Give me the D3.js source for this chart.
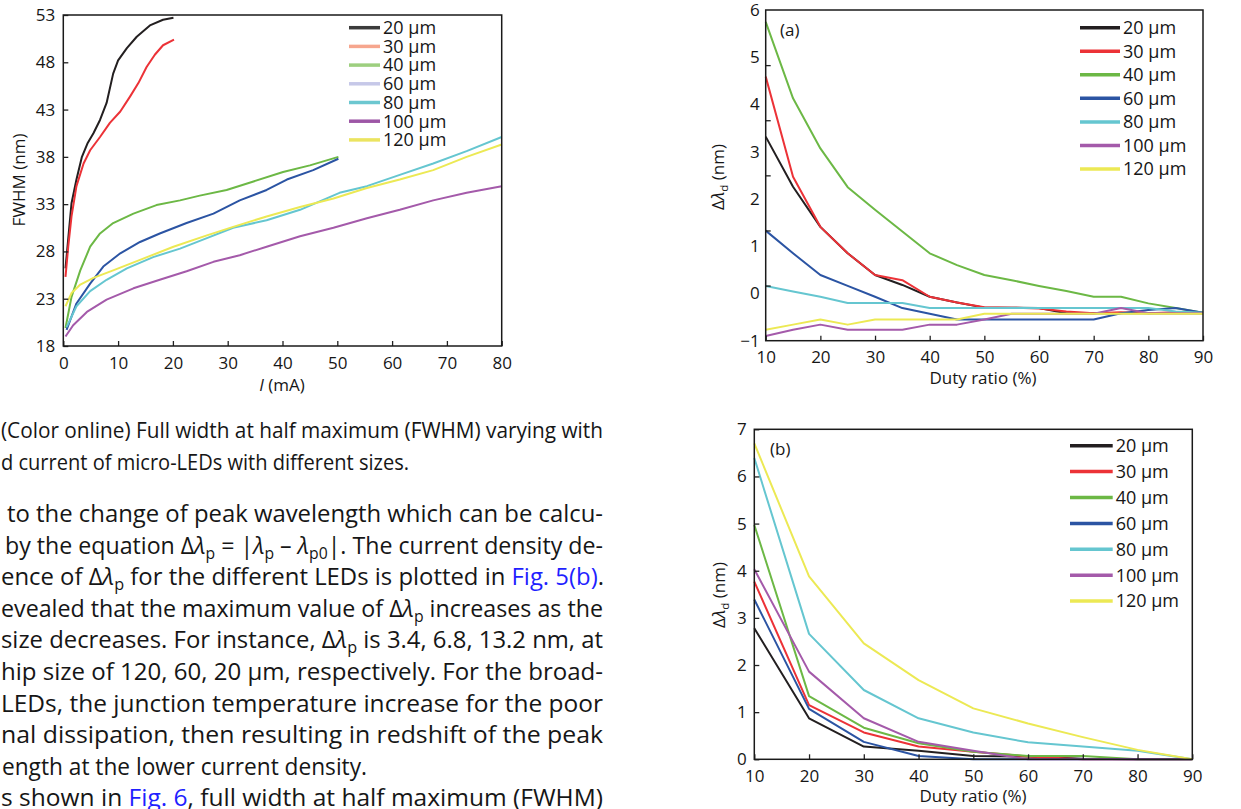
<!DOCTYPE html>
<html>
<head>
<meta charset="utf-8">
<script src="https://cdn.jsdelivr.net/npm/d3@7"></script>
<style>
  body { margin: 0; background: #fff; }
  svg { display: block; }
  text { font-family: "Open Sans", "Noto Sans", sans-serif; fill: #161616; }
</style>
</head>
<body>
<svg id="page" width="1241" height="809"></svg>
<script>
// sizes shared by all three panels
const sizes = ["20 µm", "30 µm", "40 µm", "60 µm", "80 µm", "100 µm", "120 µm"]
const lineColors = ["#231f20", "#ec3237", "#6cb845", "#2b54a3", "#65c6d0", "#a45aaa", "#ece954"]
const fwhmKeyColors = ["#3b3b3b", "#f6a68e", "#9dcf7f", "#c6c8e8", "#6cc7d0", "#9d57a6", "#ebe460"]

// FWHM vs current (left panel)
const i20 = [0.4, 1.5, 2.4, 3.4, 4.4, 5.5, 6.7, 7.9, 9.1, 10.0, 11.6, 13.4, 15.8, 18.2, 20.1]
const f20 = [26.2, 33.1, 35.6, 38.0, 39.4, 40.5, 41.9, 43.7, 46.8, 48.2, 49.5, 50.7, 51.9, 52.5, 52.7]
const i30 = [0.4, 0.9, 1.5, 2.4, 3.7, 4.9, 6.7, 8.5, 10.4, 12.2, 13.7, 15.2, 16.7, 18.2, 20.2]
const f30 = [25.3, 28.5, 31.7, 34.9, 37.3, 38.7, 40.1, 41.6, 42.8, 44.4, 45.8, 47.5, 48.8, 49.8, 50.4]
const i40 = [0.4, 1.5, 3.1, 4.9, 6.7, 9.1, 12.8, 17.0, 21.3, 24.9, 29.8, 34.7, 40.1, 45.0, 50.2]
const f40 = [19.9, 23.2, 26.0, 28.5, 29.9, 31.0, 32.0, 32.9, 33.4, 33.9, 34.5, 35.4, 36.4, 37.1, 38.0]
const i60 = [0.6, 2.4, 4.9, 7.3, 10.4, 14.0, 17.6, 22.5, 27.4, 32.2, 37.1, 40.8, 45.6, 50.2]
const f60 = [19.7, 22.5, 24.6, 26.4, 27.8, 29.0, 29.9, 31.0, 32.0, 33.4, 34.5, 35.6, 36.6, 37.8]
const i80 = [0.6, 2.4, 4.9, 7.9, 11.6, 16.4, 21.3, 26.2, 31.0, 37.1, 43.2, 46.8, 50.4, 55.4, 61.4, 67.5, 73.6, 80]
const f80 = [20.0, 22.2, 23.8, 25.0, 26.2, 27.4, 28.3, 29.4, 30.5, 31.3, 32.4, 33.3, 34.2, 34.9, 36.1, 37.3, 38.6, 40.1]
const i100 = [0.4, 1.8, 4.3, 7.9, 12.8, 17.6, 22.5, 27.4, 32.2, 37.1, 43.2, 49.3, 55.4, 61.4, 67.5, 73.6, 80]
const f100 = [19.0, 20.2, 21.6, 22.9, 24.1, 25.0, 25.9, 26.9, 27.6, 28.5, 29.6, 30.5, 31.5, 32.4, 33.4, 34.2, 34.9]
const i120 = [0.4, 1.5, 3.1, 5.5, 9.1, 14.0, 20.1, 26.2, 31.0, 37.1, 43.2, 49.3, 55.4, 61.4, 67.5, 73.6, 80]
const f120 = [22.2, 23.6, 24.5, 25.2, 26.0, 27.1, 28.5, 29.7, 30.6, 31.7, 32.7, 33.6, 34.7, 35.6, 36.6, 38.0, 39.3]
const currentTicks = [0, 10, 20, 30, 40, 50, 60, 70, 80]
const fwhmTicks = [18, 23, 28, 33, 38, 43, 48, 53]

// panel (a)
const dutyA = [10, 15, 20, 25, 30, 35, 40, 45, 50, 55, 60, 65, 70, 75, 80, 85, 90]
const a20 = [3.32, 2.26, 1.41, 0.85, 0.39, 0.18, -0.07, -0.19, -0.30, -0.30, -0.31, -0.42, -0.42, -0.42, -0.42, -0.42, -0.42]
const a30 = [4.59, 2.47, 1.41, 0.85, 0.39, 0.28, -0.07, -0.19, -0.29, -0.30, -0.32, -0.38, -0.42, -0.40, -0.42, -0.40, -0.41]
const a40 = [5.75, 4.13, 3.07, 2.25, 1.77, 1.31, 0.85, 0.60, 0.39, 0.28, 0.16, 0.05, -0.07, -0.07, -0.21, -0.31, -0.41]
const a60 = [1.33, 0.85, 0.39, 0.16, -0.07, -0.31, -0.43, -0.55, -0.55, -0.55, -0.55, -0.55, -0.55, -0.42, -0.35, -0.31, -0.41]
const a80 = [0.16, 0.04, -0.07, -0.20, -0.20, -0.20, -0.31, -0.31, -0.31, -0.31, -0.31, -0.31, -0.31, -0.31, -0.31, -0.38, -0.41]
const a100 = [-0.90, -0.77, -0.66, -0.77, -0.77, -0.77, -0.66, -0.66, -0.55, -0.43, -0.43, -0.43, -0.43, -0.31, -0.42, -0.42, -0.42]
const a120 = [-0.77, -0.66, -0.55, -0.66, -0.55, -0.55, -0.55, -0.55, -0.43, -0.43, -0.43, -0.43, -0.43, -0.43, -0.43, -0.43, -0.43]
const dutyATicks = [-1, 0, 1, 2, 3, 4, 5, 6]

// panel (b)
const dutyB = [10, 20, 30, 40, 50, 60, 70, 80, 90]
const b20 = [2.78, 0.87, 0.27, 0.18, 0.07, 0.06, 0.01, 0, 0]
const b30 = [3.77, 1.15, 0.57, 0.27, 0.16, 0.06, 0, 0, 0]
const b40 = [4.97, 1.34, 0.67, 0.34, 0.16, 0.07, 0.07, 0, 0]
const b60 = [3.39, 1.07, 0.37, 0.07, 0, 0, 0, 0, 0]
const b80 = [6.39, 2.66, 1.47, 0.87, 0.57, 0.36, 0.27, 0.18, 0]
const b100 = [4.03, 1.86, 0.87, 0.37, 0.18, 0, 0, 0, 0]
const b120 = [6.70, 3.88, 2.46, 1.68, 1.08, 0.76, 0.47, 0.20, 0]
const dutyBTicks = [0, 1, 2, 3, 4, 5, 6, 7]
const dutyTicks = [10, 20, 30, 40, 50, 60, 70, 80, 90]

const svg = d3.select("#page")
svg.append("rect").attr("width", 1241).attr("height", 809).attr("fill", "#fff")

function panel(opt) {
  const x = d3.scaleLinear().domain(opt.xDomain).range([opt.left, opt.right])
  const y = d3.scaleLinear().domain(opt.yDomain).range([opt.bottom, opt.top])
  const g = svg.append("g")

  const line = d3.line().x(d => x(d[0])).y(d => y(d[1]))
  opt.series.forEach((s, i) => {
    g.append("path")
      .datum(s.xs.map((v, j) => [v, s.ys[j]]))
      .attr("d", line)
      .attr("fill", "none")
      .attr("stroke", lineColors[i])
      .attr("stroke-width", 2)
      .attr("stroke-linejoin", "round")
  })

  const xAxis = g.append("g")
    .attr("transform", `translate(0,${opt.bottom})`)
    .call(d3.axisBottom(x).tickValues(opt.xTicks).tickSize(-5).tickPadding(opt.xPad).tickFormat(d3.format("d")))
  const yAxis = g.append("g")
    .attr("transform", `translate(${opt.left},0)`)
    .call(d3.axisLeft(y).tickValues(opt.yTicks).tickSize(-5).tickPadding(opt.yPad).tickFormat(d3.format("d")))
  ;[xAxis, yAxis].forEach(a => {
    a.attr("font-family", null).attr("font-size", 17)
    a.select(".domain").remove()
    a.selectAll(".tick line").attr("stroke", "#222").attr("stroke-width", 1.3)
  })

  // panel (a) has its left tick marks on a six-step grid, out of step with its labels
  if (opt.markSteps) {
    yAxis.selectAll(".tick line").remove()
    const marks = d3.scaleLinear().domain([0, opt.markSteps]).range([opt.bottom, opt.top])
    g.append("g")
      .attr("transform", `translate(${opt.left},0)`)
      .call(d3.axisLeft(marks).tickValues(d3.range(1, opt.markSteps)).tickSize(-5).tickFormat(""))
      .call(a => a.select(".domain").remove())
      .selectAll(".tick line").attr("stroke", "#222").attr("stroke-width", 1.3)
  }

  g.append("rect")
    .attr("x", opt.left).attr("y", opt.top)
    .attr("width", opt.right - opt.left).attr("height", opt.bottom - opt.top)
    .attr("fill", "none").attr("stroke", "#1a1a1a").attr("stroke-width", 1.5)

  // legend
  const lg = g.append("g")
  sizes.forEach((s, i) => {
    const cy = opt.keyTop + i * opt.keyStep
    lg.append("line")
      .attr("x1", opt.keyX).attr("x2", opt.keyX + opt.keyLen)
      .attr("y1", cy).attr("y2", cy)
      .attr("stroke", (opt.keyColors || lineColors)[i]).attr("stroke-width", 3.5)
    lg.append("text").attr("x", opt.keyX + opt.keyLen + 3).attr("y", cy + 6.3)
      .attr("font-size", 18).text(s)
  })

  if (opt.tag) {
    g.append("text").attr("x", opt.tag[0]).attr("y", opt.tag[1]).attr("font-size", 17).text(opt.tag[2])
  }
  return { g, x, y }
}

function title(x, y, rotate, segs) {
  const t = svg.append("text")
    .attr("font-size", 17)
    .attr("text-anchor", "middle")
    .attr("transform", `translate(${x},${y})` + (rotate ? " rotate(-90)" : ""))
  addSegs(t, segs, 17)
}

function addSegs(t, segs, size) {
  let shift = 0
  segs.forEach(s => {
    const seg = typeof s === "string" ? [s, ""] : s
    const sp = t.append("tspan").text(seg[0])
    const want = seg[1] === "s" ? size * 0.22 : 0
    if (want !== shift) { sp.attr("dy", want - shift); shift = want }
    if (seg[1] === "s") sp.attr("font-size", size * 0.68)
    if (seg[1] === "i") sp.style("font-style", "italic")
    if (seg[1] === "b") sp.style("fill", "#1f1fff")
  })
}

// left panel
panel({
  left: 63.3, right: 501.7, top: 15, bottom: 346,
  xDomain: [0, 80], yDomain: [18, 53],
  xTicks: currentTicks, yTicks: fwhmTicks, xPad: 11, yPad: 8,
  series: [
    { xs: i20, ys: f20 }, { xs: i30, ys: f30 }, { xs: i40, ys: f40 }, { xs: i60, ys: f60 },
    { xs: i80, ys: f80 }, { xs: i100, ys: f100 }, { xs: i120, ys: f120 }
  ],
  keyX: 349, keyLen: 31, keyTop: 27.7, keyStep: 18.7, keyColors: fwhmKeyColors
})
title(25, 180, true, ["FWHM (nm)"])
title(282, 391, false, [["I", "i"], " (mA)"])

// panel (a)
panel({
  left: 765.7, right: 1203, top: 10, bottom: 340.7,
  xDomain: [10, 90], yDomain: [-1, 6],
  xTicks: dutyTicks, yTicks: dutyATicks, xPad: 10.6, yPad: 6,
  markSteps: 6,
  series: [
    { xs: dutyA, ys: a20 }, { xs: dutyA, ys: a30 }, { xs: dutyA, ys: a40 }, { xs: dutyA, ys: a60 },
    { xs: dutyA, ys: a80 }, { xs: dutyA, ys: a100 }, { xs: dutyA, ys: a120 }
  ],
  keyX: 1080, keyLen: 40, keyTop: 27.7, keyStep: 23.55,
  tag: [780, 36, "(a)"]
})
title(724, 177, true, ["Δ", ["λ", "i"], ["d", "s"], " (nm)"])
title(983, 384, false, ["Duty ratio (%)"])

// panel (b)
panel({
  left: 754.3, right: 1192.3, top: 429.3, bottom: 759.3,
  xDomain: [10, 90], yDomain: [0, 7],
  xTicks: dutyTicks, yTicks: dutyBTicks, xPad: 10.4, yPad: 7.6,
  series: [
    { xs: dutyB, ys: b20 }, { xs: dutyB, ys: b30 }, { xs: dutyB, ys: b40 }, { xs: dutyB, ys: b60 },
    { xs: dutyB, ys: b80 }, { xs: dutyB, ys: b100 }, { xs: dutyB, ys: b120 }
  ],
  keyX: 1070, keyLen: 42.7, keyTop: 445.7, keyStep: 25.9,
  tag: [770, 455, "(b)"]
})
title(725, 595, true, ["Δ", ["λ", "i"], ["d", "s"], " (nm)"])
title(973, 802, false, ["Duty ratio (%)"])

// caption and body text to the left
const caption = [
  { x: 1, y: 438, w: 602, segs: ["(Color online) Full width at half maximum (FWHM) varying with"] },
  { x: 1, y: 470, w: 408, segs: ["d current of micro-LEDs with different sizes."] }
]
const body = [
  { w: 596, x: 7, segs: ["to the change of peak wavelength which can be calcu-"] },
  { w: 598, x: 5, segs: ["by the equation Δ", ["λ", "i"], ["p", "s"], " = |", ["λ", "i"], ["p", "s"], " – ", ["λ", "i"], ["p0", "s"], "|. The current density de-"] },
  { w: 603, x: 1, segs: ["ence of Δ", ["λ", "i"], ["p", "s"], " for the different LEDs is plotted in ", ["Fig. 5(b)", "b"], "."] },
  { w: 602, x: 1, segs: ["evealed that the maximum value of Δ", ["λ", "i"], ["p", "s"], " increases as the"] },
  { w: 602, x: 1, segs: ["size decreases. For instance, Δ", ["λ", "i"], ["p", "s"], " is 3.4, 6.8, 13.2 nm, at"] },
  { w: 602, x: 1, segs: ["hip size of 120, 60, 20 µm, respectively. For the broad-"] },
  { w: 602, x: 1, segs: ["LEDs, the junction temperature increase for the poor"] },
  { w: 602, x: 1, segs: ["nal dissipation, then resulting in redshift of the peak"] },
  { w: 365, x: 2, segs: ["ength at the lower current density."] },
  { w: 602, x: 1, segs: ["s shown in ", ["Fig. 6", "b"], ", full width at half maximum (FWHM)"] }
]

caption.forEach(c => {
  const t = svg.append("text").attr("x", c.x).attr("y", c.y).attr("font-size", 21)
    .attr("textLength", c.w).attr("lengthAdjust", "spacingAndGlyphs")
  addSegs(t, c.segs, 21)
})
body.forEach((b, k) => {
  const t = svg.append("text").attr("x", b.x).attr("y", 522 + k * 31.6).attr("font-size", 23)
    .attr("textLength", b.w).attr("lengthAdjust", "spacingAndGlyphs")
  addSegs(t, b.segs, 23)
})
</script>
</body>
</html>
